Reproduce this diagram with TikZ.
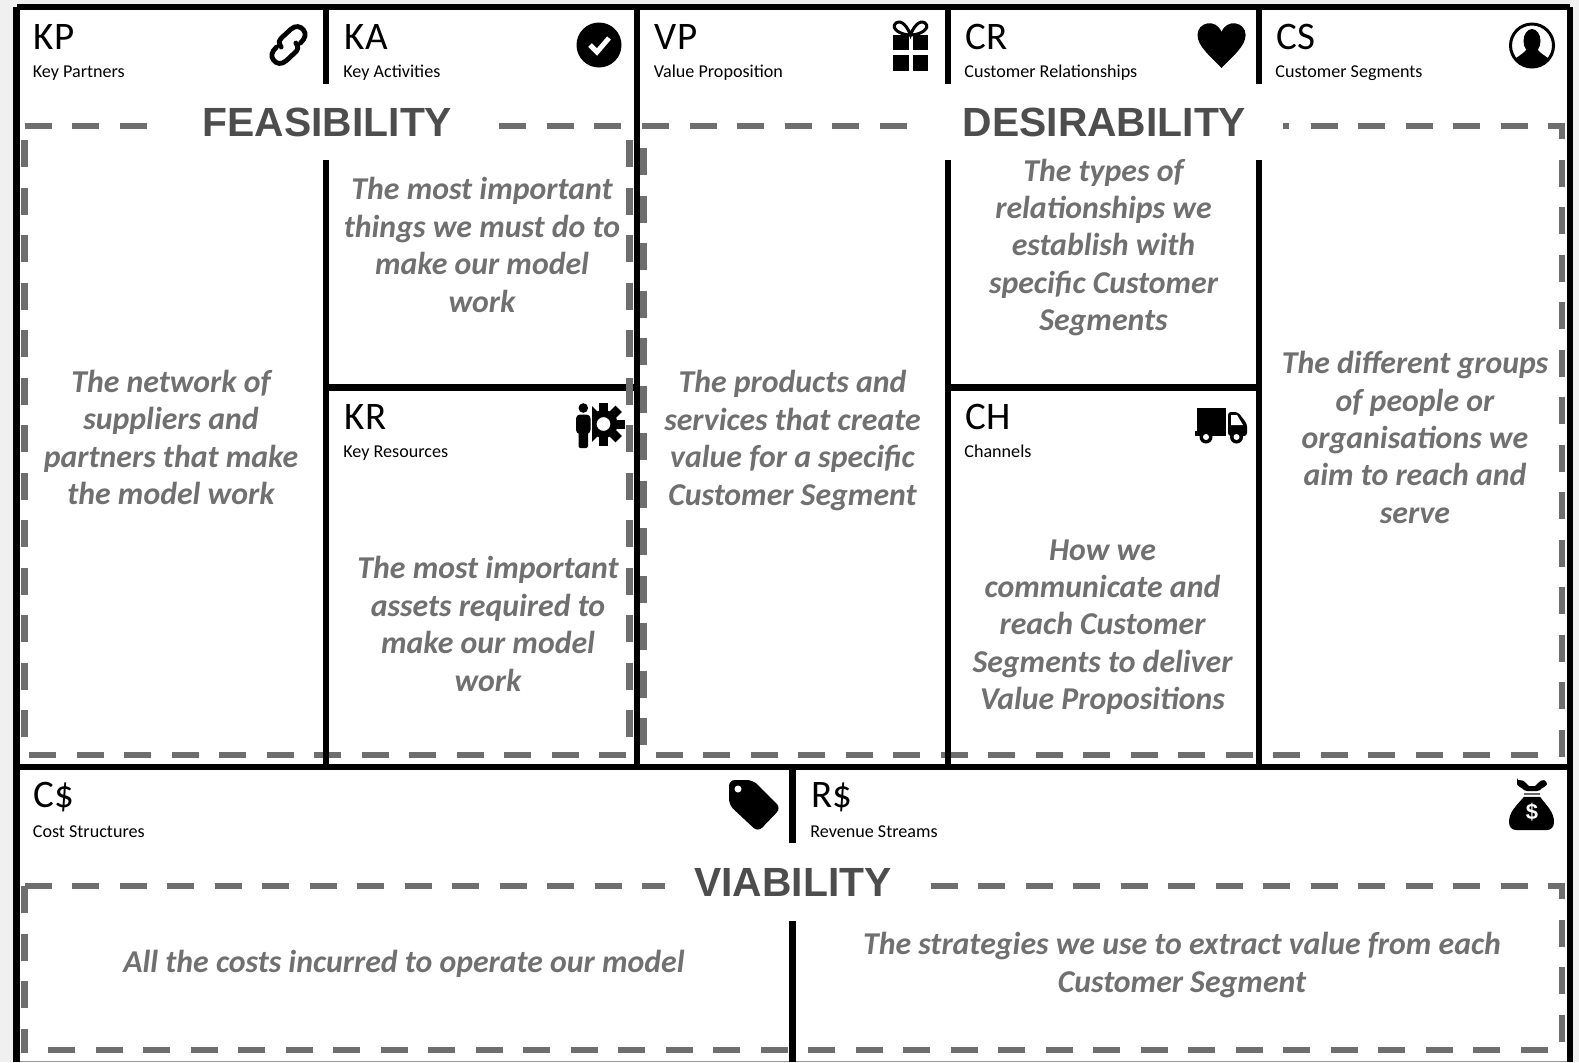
\documentclass[tikz,border=0pt]{standalone}
\usepackage{fontspec}
\setmainfont{Carlito}
\newfontfamily\headfont{Liberation Sans}
\usetikzlibrary{positioning, calc}
\definecolor{pagegray}{HTML}{F0F0F0}
\definecolor{dashgray}{HTML}{6E6E6E}
\definecolor{bodygray}{HTML}{707070}
\definecolor{headgray}{HTML}{4D4D4D}

\begin{document}
\begin{tikzpicture}[x=.5pt, y=-.5pt,
    blockline/.style={line width=3.25pt, black},
    dashline/.style={line width=3.25pt, dashgray, dash pattern=on 13.5pt off 10.25pt},
    titletext/.style={anchor=base west, inner sep=0pt, font=\fontsize{19.5}{22}\selectfont},
    subtext/.style={anchor=base west, inner sep=0pt, font=\fontsize{9.05}{10}\selectfont},
    bodytext/.style={align=center, inner sep=0pt, text=bodygray, font=\bfseries\itshape\fontsize{15.9}{18.7}\selectfont},
    headtext/.style={inner sep=0pt, text=headgray, font=\headfont\bfseries\fontsize{20.4}{24}\selectfont}]
      \useasboundingbox (0,0) rectangle (1579,1062);
      \fill[pagegray] (0,0) rectangle (1579,1062);
      \fill[white] (16.5,7) rectangle (1570,1060.5);
      \fill[black!40] (16.5,1060.5) rectangle (1570,1062);

      \coordinate (lt) at (16.5,7);
      \coordinate (rt) at (1570,7);
      \coordinate (lb) at (16.5,1062);
      \coordinate (rb) at (1570,1062);
      \coordinate (ml) at (16.5,767);
      \coordinate (mr) at (1570,767);

      \coordinate (kat) at (326,7);
      \coordinate (kau) at (326,84);
      \coordinate (kal) at (326,160);
      \coordinate (kab) at (326,767);
      \coordinate (vpt) at (637,7);
      \coordinate (vpb) at (637,767);
      \coordinate (crt) at (948,7);
      \coordinate (cru) at (948,84);
      \coordinate (crl) at (948,160);
      \coordinate (crb) at (948,767);
      \coordinate (cst) at (1259,7);
      \coordinate (csu) at (1259,84);
      \coordinate (csl) at (1259,160);
      \coordinate (csb) at (1259,767);
      \coordinate (krl) at (326,387.5);
      \coordinate (krr) at (637,387.5);
      \coordinate (chl) at (948,387.5);
      \coordinate (chr) at (1259,387.5);
      \coordinate (rst) at (792.5,767);
      \coordinate (rsu) at (792.5,843);
      \coordinate (rsl) at (792.5,921);
      \coordinate (rsb) at (792.5,1062);

      \draw[blockline] (lt) -- (rt);    %top
      \draw[blockline] (lb) -- (lt);    %left
      \draw[blockline] (rt) -- (rb);    %right
      \draw[blockline] (ml) -- (mr);    %middle
      \draw[blockline] (krl) -- (krr);
      \draw[blockline] (chl) -- (chr);

      % feasibility
      \draw[dashline] (24.5,126) -- (147,126);
      \draw[dashline] (499,126) -- (623,126);
      \draw[dashline] (24.5,140) -- (24.5,755);
      \draw[dashline] (629.5,140) -- (629.5,755);
      \draw[dashline] (29,755) -- (627,755);
      % desirability
      \draw[dashline] (642,126) -- (909,126);
      \draw[dashline] (1283,126) -- (1289,126);
      \draw[dashline] (1310.5,126) -- (1562,126) -- (1562,757);
      \draw[dashline] (643.5,148) -- (643.5,755);
      \draw[dashline] (655.5,755) -- (1540,755);
      % viability
      \draw[dashline] (24.5,886) -- (665,886);
      \draw[dashline] (24.5,886) -- (24.5,1053);
      \draw[dashline] (930.5,886) -- (1562,886) -- (1562,1053);
      \draw[dashline] (48,1050) -- (1560,1050);

      \draw[blockline] (kat) -- (kau);
      \draw[blockline] (kal) -- (kab);
      \draw[blockline] (vpt) -- (vpb);
      \draw[blockline] (crt) -- (cru);
      \draw[blockline] (crl) -- (crb);
      \draw[blockline] (cst) -- (csu);
      \draw[blockline] (csl) -- (csb);
      \draw[blockline] (rst) -- (rsu);
      \draw[blockline] (rsl) -- (rsb);

      \node[headtext] (feas) at (327.5,122) {FEASIBILITY};
      \node[headtext] (desi) at (1104.5,122) {DESIRABILITY};
      \node[headtext] (viab) at (793,882.5) {VIABILITY};

      \node[titletext] (kptitle) at (33.5,49.5) {KP};
      \node[subtext] (kpsub) at (32.5,77) {Key Partners};
      \node[titletext] (katitle) at (344.5,49.5) {KA};
      \node[subtext] (kasub) at (343,77) {Key Activities};
      \node[titletext] (vptitle) at (654.5,49.5) {VP};
      \node[subtext] (vpsub) at (653.5,77) {Value Proposition};
      \node[titletext] (crtitle) at (965,49.5) {CR};
      \node[subtext] (crsub) at (964,77) {Customer Relationships};
      \node[titletext] (cstitle) at (1276,49.5) {CS};
      \node[subtext] (cssub) at (1275,77) {Customer Segments};
      \node[titletext] (krtitle) at (344.5,429) {KR};
      \node[subtext] (krsub) at (343,457) {Key Resources};
      \node[titletext] (chtitle) at (965,429) {CH};
      \node[subtext] (chsub) at (964,457) {Channels};
      \node[titletext] (cctitle) at (33,807.5) {C\$};
      \node[subtext] (ccsub) at (32.5,837) {Cost Structures};
      \node[titletext] (rstitle) at (811,807.5) {R\$};
      \node[subtext] (rssub) at (810,837) {Revenue Streams};

      \node[bodytext] (kpbody) at (171,437.5) {The network of\\suppliers and\\partners that make\\the model work};
      \node[bodytext] (kabody) at (482,245) {The most important\\things we must do to\\make our model\\work};
      \node[bodytext] (krbody) at (488,624) {The most important\\assets required to\\make our model\\work};
      \node[bodytext] (vpbody) at (792.5,440.5) {The products and\\services that create\\value for a specific\\Customer Segment};
      \node[bodytext] (crbody) at (1103.5,247.5) {The types of\\relationships we\\establish with\\specific Customer\\Segments};
      \node[bodytext] (chbody) at (1102.5,627) {How we\\communicate and\\reach Customer\\Segments to deliver\\Value Propositions};
      \node[bodytext] (csbody) at (1415,437.5) {The different groups\\of people or\\organisations we\\aim to reach and\\serve};
      \node[bodytext] (ccbody) at (404,964) {All the costs incurred to operate our model};
      \node[bodytext] (rsbody) at (1182,965) {The strategies we use to extract value from each\\Customer Segment};

      % link icon
      \begin{scope}[line width=2.4pt, line cap=round]
        \draw (281.2,47) .. controls (277.5,42) and (279.5,40) .. (282.5,37) -- (290.5,29.5) .. controls (295.5,25) and (300.5,26) .. (303.5,30) .. controls (306.5,34) and (305.5,38) .. (300.5,43);
        \draw (295.8,43) .. controls (299.5,48) and (297.5,50) .. (294.5,53) -- (286.5,60.5) .. controls (281.5,65) and (276.5,64) .. (273.5,60) .. controls (270.5,56) and (271.5,52) .. (276.5,47);
      \end{scope}
      % check icon
      \fill (599,45) circle (22.5);
      \draw[white, line width=2.5pt] (590,45) -- (597,52) -- (609,38);
      % gift icon
      \fill (892.5,35) rectangle (909,50);
      \fill (912.5,35) rectangle (928,50);
      \fill (892.5,55) rectangle (909,71);
      \fill (912.5,55) rectangle (928,71);
      \draw[line width=1.5pt] (910.5,35) .. controls (900,35) and (890,28) .. (896,23) .. controls (902,19) and (908,28) .. (910.5,35) .. controls (913,28) and (919,19) .. (925,23) .. controls (931,28) and (921,35) .. (910.5,35);
      % heart icon
      \fill (1221.5,68) .. controls (1210,56) and (1197.5,46) .. (1197.5,35) .. controls (1197.5,22) and (1216,18) .. (1221.5,32) .. controls (1227,18) and (1245.6,22) .. (1245.6,35) .. controls (1245.6,46) and (1233,56) .. (1221.5,68) -- cycle;
      % user icon
      \begin{scope}
        \clip (1532,45.5) circle (22);
        \fill (1532,41) ellipse (8.5 and 12);
        \fill (1510,70) .. controls (1510,58) and (1522,56) .. (1526,50) -- (1538,50) .. controls (1542,56) and (1554,58) .. (1554,70) -- cycle;
      \end{scope}
      \draw[line width=1.5pt] (1532,45.5) circle (21.5);
      % gear icon
      \foreach \a in {0,45,...,315}
        \fill[rotate around={\a:(603.5,424)}] (599,402.5) rectangle (608,412);
      \draw[line width=3.5pt] (603.5,424) circle (10.5);
      \fill[white] (573,399) rectangle (591.5,452);
      \fill (583.3,408) circle (4.8);
      \fill[rounded corners=2pt] (576,414.5) rectangle (590.5,434);
      \fill[rounded corners=1pt] (578.5,428) rectangle (588,448);
      % truck icon
      \fill (1197,408) rectangle (1226,435);
      \fill (1195,431) rectangle (1226,436);
      \fill[rounded corners=1.5pt] (1228,412) -- (1238,412) -- (1247,424) -- (1247,436) -- (1228,436) -- cycle;
      \fill[white] (1231,415) -- (1237,415) -- (1243,425) -- (1231,425) -- cycle;
      \fill (1206,437) circle (6.5);
      \fill[white] (1206,437) circle (3);
      \fill (1236.5,437) circle (6.5);
      \fill[white] (1236.5,437) circle (3);
      % tag icon
      \fill[rounded corners=3pt] (729,780) -- (753,780) -- (781,808) -- (758,832) -- (729,805) -- cycle;
      \fill[white] (738,789) circle (3.5);
      % bag icon
      \fill[rounded corners=1.5pt] (1517,781) .. controls (1524,779) and (1528,786) .. (1532,786) .. controls (1536,786) and (1540,779) .. (1547,781) .. controls (1547,786) and (1542,788) .. (1540,791) -- (1524,791) .. controls (1522,788) and (1517,786) .. (1517,781) -- cycle;
      \fill[black!60] (1524,792.8) rectangle (1540,795);
      \fill (1524,796.8) .. controls (1516,806) and (1509,812) .. (1509,822) .. controls (1509,827) and (1512,830) .. (1516,830) -- (1547,830) .. controls (1551,830) and (1554,827) .. (1554,822) .. controls (1554,812) and (1547,806) .. (1540,796.8) -- cycle;
      \node[text=white, inner sep=0pt, font=\headfont\bfseries\fontsize{11}{12}\selectfont] (bagsign) at (1532,812) {\$};
    \end{tikzpicture}
\end{document}
